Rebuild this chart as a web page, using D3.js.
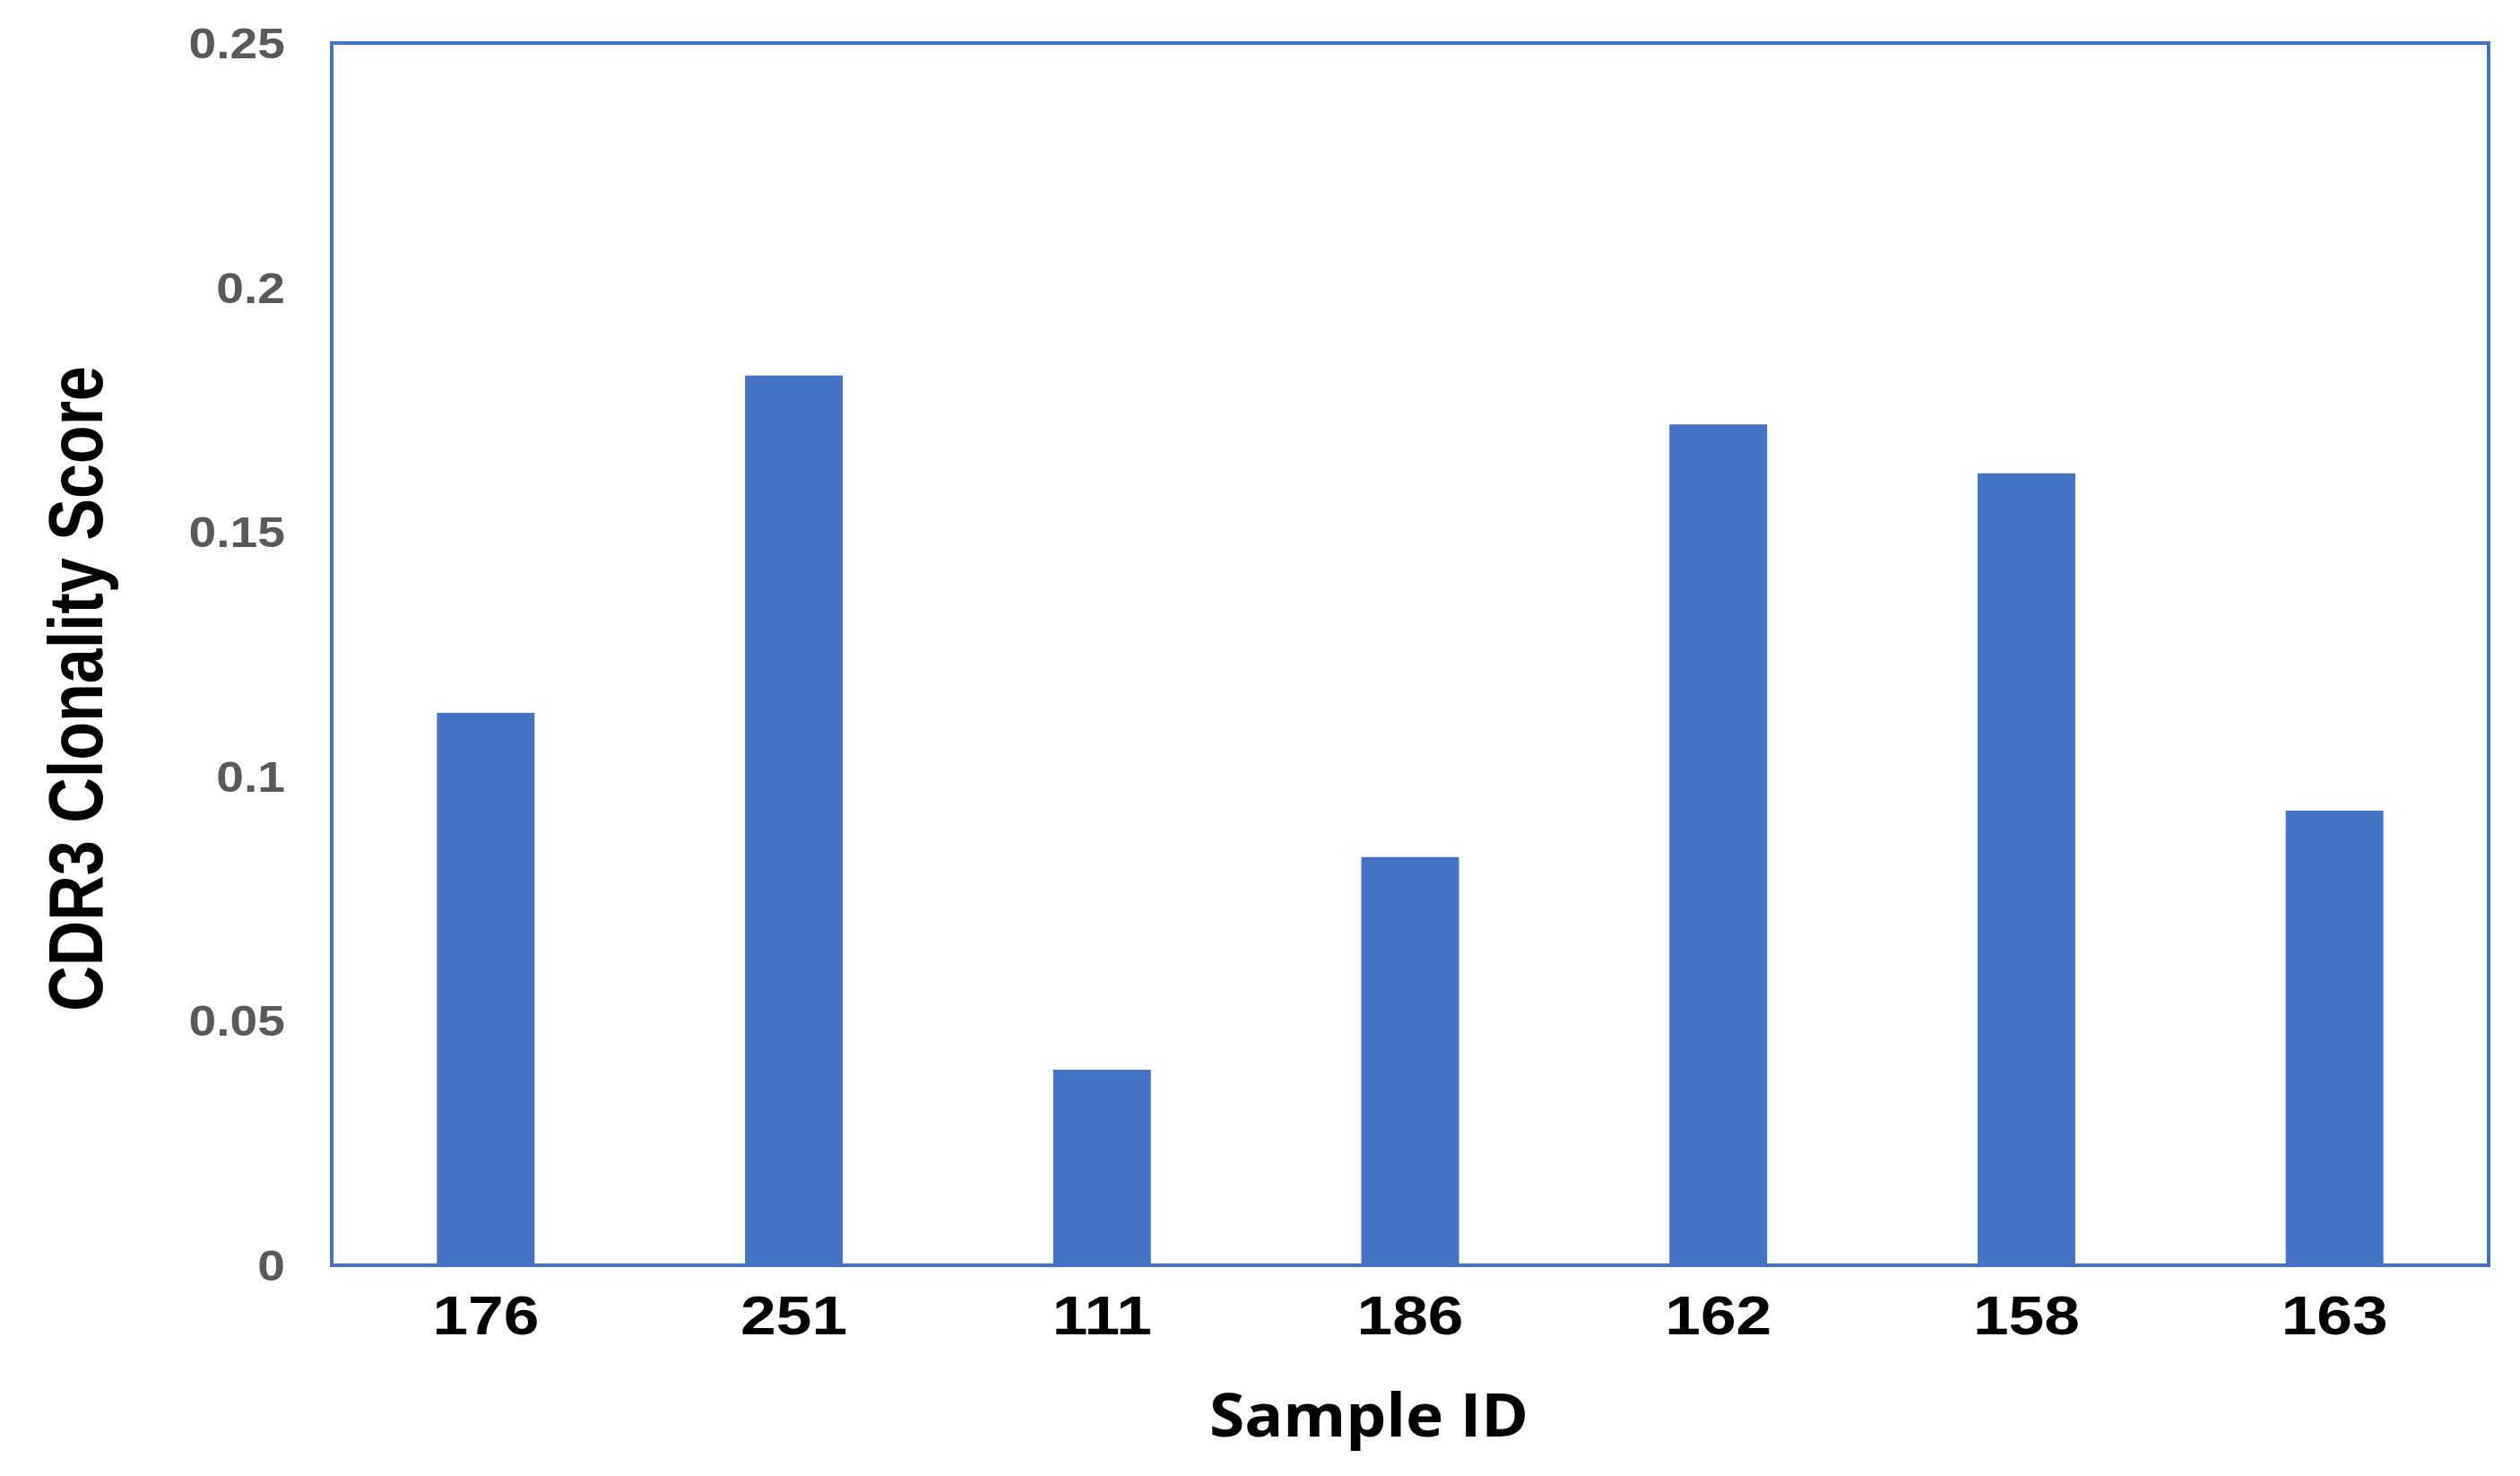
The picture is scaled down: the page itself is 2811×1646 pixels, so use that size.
<!DOCTYPE html>
<html>
<head>
<meta charset="utf-8">
<script src="https://cdn.jsdelivr.net/npm/d3@7/dist/d3.min.js"></script>
<style>
  html, body { margin: 0; padding: 0; background: #ffffff; }
  svg { display: block; }
</style>
</head>
<body>
<svg id="chart" width="2811" height="1646"></svg>
<script>
const categories = ["176", "251", "111", "186", "162", "158", "163"];
const values = [0.113, 0.182, 0.040, 0.0835, 0.172, 0.162, 0.093];
const yTicks = [0, 0.05, 0.1, 0.15, 0.2, 0.25];
const yTickLabels = ["0", "0.05", "0.1", "0.15", "0.2", "0.25"];
const xTitle = "Sample ID";
const yTitle = "CDR3 Clonality Score";

const svg = d3.select("#chart");
const plotLeft = 370, plotRight = 2776, plotTop = 48, plotBottom = 1411;
const blue = "#4472C4";

const x = d3.scaleBand().domain(categories).range([plotLeft, plotRight])
  .paddingInner(0.683).paddingOuter(0.3415);
const y = d3.scaleLinear().domain([0, 0.25]).range([plotBottom, plotTop]);

// bars
svg.append("g").selectAll("rect").data(values).join("rect")
  .attr("x", (d, i) => x(categories[i]))
  .attr("y", d => y(d))
  .attr("width", x.bandwidth())
  .attr("height", d => y(0) - y(d))
  .attr("fill", blue);

// frame
svg.append("rect")
  .attr("x", plotLeft).attr("y", y(0.25))
  .attr("width", plotRight - plotLeft).attr("height", y(0) - y(0.25))
  .attr("fill", "none").attr("stroke", blue).attr("stroke-width", 4);

// y tick labels
svg.append("g").selectAll("text").data(yTicks).join("text")
  .attr("transform", d => `translate(318,${y(d) + 17}) scale(1.15,1)`)
  .attr("text-anchor", "end")
  .attr("font-family", "Liberation Sans, Arial, sans-serif")
  .attr("font-weight", "bold")
  .attr("font-size", 48)
  .attr("fill", "#595959")
  .text((d, i) => yTickLabels[i]);

// x tick labels
svg.append("g").selectAll("text").data(categories).join("text")
  .attr("transform", d => `translate(${x(d) + x.bandwidth() / 2},1488) scale(1.15,1)`)
  .attr("text-anchor", "middle")
  .attr("font-family", "Liberation Sans, Arial, sans-serif")
  .attr("font-weight", "bold")
  .attr("font-size", 62)
  .attr("fill", "#000000")
  .text(d => d);

// x title
svg.append("text")
  .attr("transform", "translate(1527,1602) scale(1.08,1)")
  .attr("text-anchor", "middle")
  .attr("font-family", "Open Sans, sans-serif")
  .attr("font-weight", "bold")
  .attr("font-size", 66)
  .attr("fill", "#000000")
  .text(xTitle);

// y title
svg.append("text")
  .attr("transform", "translate(114,768) rotate(-90) scale(1,1.22)")
  .attr("text-anchor", "middle")
  .attr("font-family", "Liberation Sans, Arial, sans-serif")
  .attr("font-weight", "bold")
  .attr("font-size", 70)
  .attr("fill", "#000000")
  .text(yTitle);
</script>
</body>
</html>
